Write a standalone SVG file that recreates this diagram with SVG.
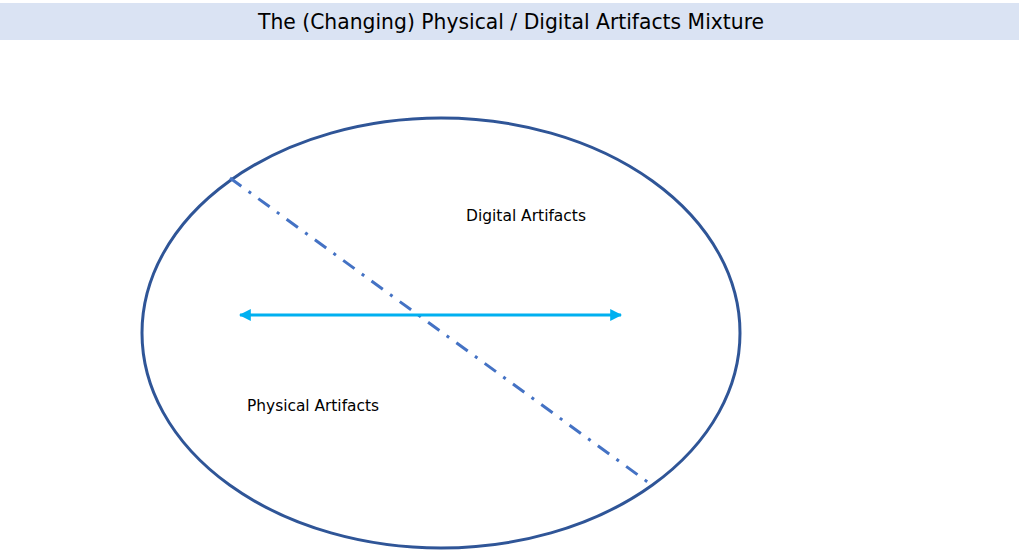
<svg xmlns="http://www.w3.org/2000/svg" width="1022" height="550" viewBox="0 0 1022 550">
<style>
.t{font-family:"DejaVu Sans Condensed","DejaVu Sans",sans-serif;fill:#000}
</style>
<defs>
<marker id="ah" viewBox="0 0 10 10" refX="9" refY="5" markerWidth="4" markerHeight="4" orient="auto-start-reverse" markerUnits="strokeWidth">
<path d="M0,0 L10,5 L0,10 Z" fill="#00B0F0"/>
</marker>
</defs>
<rect width="1022" height="550" fill="#fff"/>
<g id="title">
<rect x="0" y="3" width="1019" height="37" fill="#DAE3F3"/>
<text class="t" x="511" y="29" font-size="21" text-anchor="middle" textLength="506" lengthAdjust="spacingAndGlyphs">The (Changing) Physical / Digital Artifacts Mixture</text>
</g>
<g id="ellipse">
<ellipse cx="441" cy="333" rx="299" ry="215" fill="none" stroke="#2F5597" stroke-width="3"/>
</g>
<g id="connectors">
<line x1="230" y1="178" x2="649" y2="483" stroke="#4472C4" stroke-width="3" stroke-dasharray="14,9,3,9"/>
<line x1="240" y1="315" x2="621" y2="315" stroke="#00B0F0" stroke-width="3" marker-start="url(#ah)" marker-end="url(#ah)"/>
</g>
<g id="digital">
<text class="t" x="466" y="221" font-size="15" textLength="120" lengthAdjust="spacingAndGlyphs">Digital Artifacts</text>
</g>
<g id="physical">
<text class="t" x="247" y="411" font-size="15" textLength="132" lengthAdjust="spacingAndGlyphs">Physical Artifacts</text>
</g>
</svg>
